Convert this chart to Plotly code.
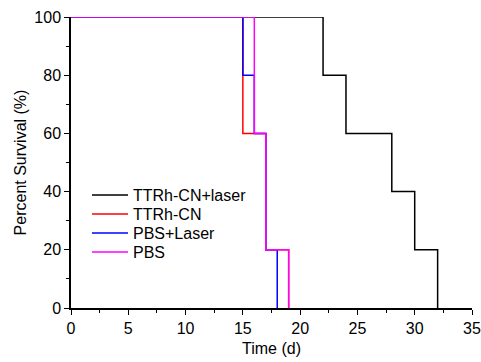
import plotly.graph_objects as go

names = ["TTRh-CN+laser", "TTRh-CN", "PBS+Laser", "PBS"]
colors = ["#000000", "#ff0000", "#0000ff", "#ff00ff"]
times = [
    [0, 22, 24, 28, 30, 32],
    [0, 15, 17, 19],
    [0, 15, 16, 17, 18],
    [0, 16, 17, 19],
]
survival = [
    [100, 80, 60, 40, 20, 0],
    [100, 60, 20, 0],
    [100, 80, 60, 20, 0],
    [100, 60, 20, 0],
]

W, H = 481, 362
ML, MR, MT, MB = 71, 9, 17, 54
PW, PH = W - ML - MR, H - MT - MB

fig = go.Figure()
for n, c, t, s in zip(names, colors, times, survival):
    fig.add_trace(go.Scatter(x=t, y=s, mode="lines", name=n, showlegend=False,
                             line=dict(color=c, width=1.5, shape="hv")))

# manual legend (tighter row spacing than plotly's default)
def px_x(p):
    return (p - ML) / PW

def px_y(p):
    return (H - MB - p) / PH

shapes, annotations = [], []
for i, (n, c) in enumerate(zip(names, colors)):
    yy = 195 + 19 * i
    shapes.append(dict(type="line", xref="paper", yref="paper",
                       x0=px_x(92), x1=px_x(128), y0=px_y(yy), y1=px_y(yy),
                       line=dict(color=c, width=1.5)))
    annotations.append(dict(xref="paper", yref="paper", x=px_x(131), y=px_y(yy),
                            xanchor="left", yanchor="middle", text=n, showarrow=False,
                            font=dict(size=16, color="#000")))

font = dict(family="Liberation Sans, Arial, sans-serif", size=16, color="#000")
fig.update_layout(
    width=W, height=H,
    margin=dict(l=ML, r=MR, t=MT, b=MB),
    plot_bgcolor="white", paper_bgcolor="white",
    font=font,
    showlegend=False,
    shapes=shapes, annotations=annotations,
    xaxis=dict(range=[0, 35], dtick=5, tick0=0, showgrid=False, zeroline=False,
               showline=True, linecolor="black", linewidth=1.5, automargin=False,
               ticks="outside", ticklen=5, tickwidth=1.2, tickcolor="black",
               minor=dict(dtick=2.5, ticks="outside", ticklen=3, tickcolor="black", tickwidth=1.2),
               title=dict(text="Time (d)", standoff=7, font=dict(size=16)),
               tickfont=dict(size=16)),
    yaxis=dict(range=[0, 100], dtick=20, tick0=0, showgrid=False, zeroline=False,
               showline=True, linecolor="black", linewidth=1.5, automargin=False,
               ticks="outside", ticklen=5, tickwidth=1.2, tickcolor="black",
               minor=dict(dtick=10, ticks="outside", ticklen=3, tickcolor="black", tickwidth=1.2),
               title=dict(text="Percent Survival (%)", standoff=4, font=dict(size=16)),
               tickfont=dict(size=16)),
)
fig.write_html("out.html")
